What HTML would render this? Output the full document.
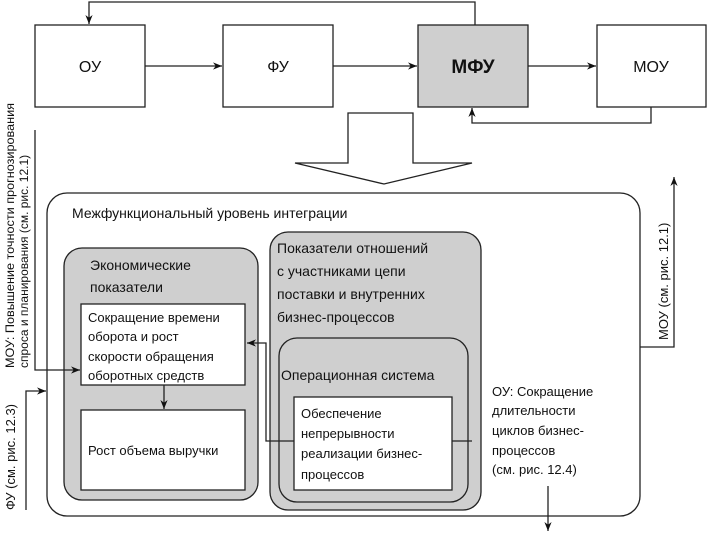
<!DOCTYPE html>
<html><head><meta charset="utf-8"><style>
html,body{margin:0;padding:0;background:#fff;}
svg{display:block;font-family:"Liberation Sans",sans-serif;}
text{font-size:13px;fill:#111;}
</style></head><body>
<svg width="707" height="537" viewBox="0 0 707 537" xmlns="http://www.w3.org/2000/svg">
<defs>
<marker id="a" viewBox="0 0 10 10" refX="10" refY="5" markerWidth="9" markerHeight="9" orient="auto" markerUnits="userSpaceOnUse"><path d="M0,1 L10,5 L0,9 L3,5 z" fill="#111"/></marker>
</defs>
<g stroke="#222" stroke-width="1.3" fill="none">
<rect x="35" y="25" width="110" height="82" fill="#fff"/>
<rect x="223" y="25" width="110" height="82" fill="#fff"/>
<rect x="418" y="25" width="110" height="82" fill="#cfcfcf"/>
<rect x="597" y="25" width="109" height="82" fill="#fff"/>
<line x1="145" y1="66" x2="222" y2="66" marker-end="url(#a)"/>
<line x1="333" y1="66" x2="417" y2="66" marker-end="url(#a)"/>
<line x1="528" y1="66" x2="596" y2="66" marker-end="url(#a)"/>
<polyline points="475,25 475,2 89,2 89,24" marker-end="url(#a)"/>
<polyline points="651,107 651,123 472,123 472,108" marker-end="url(#a)"/>
<polygon points="348,113 413,113 413,163 472,163 384,184 295,163 348,163" fill="#fff"/>
<rect x="47" y="193" width="593" height="323" rx="20" fill="#fff"/>
<rect x="64" y="248" width="194" height="252" rx="18" fill="#cfcfcf"/>
<rect x="81" y="304" width="164" height="81" fill="#fff"/>
<rect x="81" y="410" width="164" height="80" fill="#fff"/>
<line x1="164" y1="385" x2="164" y2="409" marker-end="url(#a)"/>
<rect x="270" y="232" width="211" height="278" rx="18" fill="#cfcfcf"/>
<rect x="279" y="338" width="189" height="164" rx="18" fill="#cfcfcf"/>
<rect x="294" y="397" width="158" height="93" fill="#fff"/>
<polyline points="294,441 266,441 266,343 247,343" marker-end="url(#a)"/>
<line x1="452" y1="441" x2="472" y2="441"/>
<polyline points="640,347 674,347 674,177" marker-end="url(#a)"/>
<line x1="548" y1="486" x2="548" y2="531" marker-end="url(#a)"/>
<polyline points="35,130 35,370 80,370" marker-end="url(#a)"/>
<polyline points="26,510 26,391 46,391" marker-end="url(#a)"/>
</g>
<text x="90" y="72" text-anchor="middle" style="font-size:16px">ОУ</text>
<text x="278" y="72" text-anchor="middle" style="font-size:16px">ФУ</text>
<text x="473" y="73" text-anchor="middle" style="font-size:19px;font-weight:bold">МФУ</text>
<text x="651" y="72" text-anchor="middle" style="font-size:16px">МОУ</text>
<text x="72" y="218" style="font-size:14px">Межфункциональный уровень интеграции</text>
<text x="90" y="270" style="font-size:14px">Экономические</text>
<text x="90" y="292" style="font-size:14px">показатели</text>
<text x="88" y="322">Сокращение времени</text>
<text x="88" y="341">оборота и рост</text>
<text x="88" y="361">скорости обращения</text>
<text x="88" y="380">оборотных средств</text>
<text x="88" y="455">Рост объема выручки</text>
<text x="277" y="253" style="font-size:14px">Показатели отношений</text>
<text x="277" y="276" style="font-size:14px">с участниками цепи</text>
<text x="277" y="299" style="font-size:14px">поставки и внутренних</text>
<text x="277" y="322" style="font-size:14px">бизнес-процессов</text>
<text x="281" y="380" style="font-size:14px">Операционная система</text>
<text x="301" y="418">Обеспечение</text>
<text x="301" y="438">непрерывности</text>
<text x="301" y="458">реализации бизнес-</text>
<text x="301" y="479">процессов</text>
<text x="492" y="396">ОУ: Сокращение</text>
<text x="492" y="415">длительности</text>
<text x="492" y="435">циклов бизнес-</text>
<text x="492" y="455">процессов</text>
<text x="492" y="474">(см. рис. 12.4)</text>
<text transform="translate(668,340) rotate(-90)">МОУ (см. рис. 12.1)</text>
<text transform="translate(14,368) rotate(-90)" style="font-size:12px" textLength="265" lengthAdjust="spacingAndGlyphs">МОУ: Повышение точности прогнозирования</text>
<text transform="translate(28,368) rotate(-90)" style="font-size:12px">спроса и планирования (см. рис. 12.1)</text>
<text transform="translate(15,510) rotate(-90)">ФУ (см. рис. 12.3)</text>
</svg>
</body></html>
